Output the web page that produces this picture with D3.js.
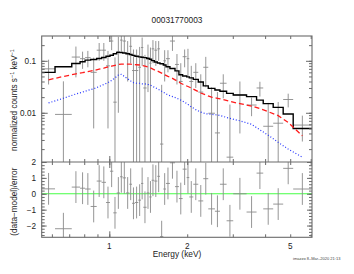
<!DOCTYPE html>
<html>
<head>
<meta charset="utf-8">
<script src="https://cdn.jsdelivr.net/npm/d3@7/dist/d3.min.js"></script>
<style>
body { margin: 0; background: #fff; }
text { font-family: "Liberation Sans", Arial, sans-serif; fill: #222; }
</style>
</head>
<body>
<div id="chart"></div>
<script>
// spectral bins (keV), one more edge than bins
const binEdges = [0.55, 0.617, 0.716, 0.771, 0.806, 0.847, 0.894, 0.934, 0.971, 1.006,
    1.036, 1.068, 1.100, 1.126, 1.160, 1.195, 1.224, 1.256, 1.294, 1.326,
    1.353, 1.394, 1.428, 1.457, 1.492, 1.533, 1.570, 1.617, 1.656, 1.715,
    1.794, 1.858, 1.920, 1.990, 2.037, 2.111, 2.207, 2.307, 2.412, 2.559,
    2.676, 2.839, 3.012, 3.391, 3.707, 3.933, 4.298, 4.697, 5.135, 6.043];

// total model (black histogram)
const modelTotal = [0.060, 0.077, 0.089, 0.096, 0.103, 0.106, 0.111, 0.116, 0.122, 0.128,
    0.137, 0.145, 0.144, 0.141, 0.137, 0.132, 0.127, 0.122, 0.119, 0.117,
    0.115, 0.111, 0.107, 0.101, 0.095, 0.091, 0.088, 0.083, 0.077, 0.071,
    0.064, 0.054, 0.051, 0.049, 0.047, 0.044, 0.039, 0.033, 0.0295, 0.0275,
    0.026, 0.0236, 0.022, 0.0205, 0.0175, 0.015, 0.0127, 0.0095, 0.005];

// model components
const compRed = [0.043, 0.050, 0.056, 0.059, 0.062, 0.065, 0.069, 0.072, 0.076, 0.079,
    0.082, 0.085, 0.086, 0.086, 0.086, 0.086, 0.085, 0.084, 0.083, 0.081,
    0.079, 0.076, 0.073, 0.069, 0.065, 0.062, 0.058, 0.054, 0.050, 0.046,
    0.041, 0.037, 0.034, 0.032, 0.030, 0.027, 0.024, 0.022, 0.020, 0.019,
    0.018, 0.0165, 0.015, 0.0135, 0.012, 0.0105, 0.0088, 0.0065, 0.0036];

const compBlue = [0.0155, 0.019, 0.023, 0.025, 0.027, 0.029, 0.032, 0.035, 0.038, 0.042,
    0.047, 0.053, 0.055, 0.050, 0.045, 0.041, 0.038, 0.037, 0.037, 0.036,
    0.036, 0.035, 0.034, 0.032, 0.030, 0.028, 0.026, 0.024, 0.022, 0.0205,
    0.019, 0.0175, 0.016, 0.0145, 0.013, 0.0115, 0.0103, 0.0096, 0.0093, 0.0091,
    0.0085, 0.0078, 0.007, 0.0060, 0.0047, 0.0037, 0.0027, 0.0020, 0.0014];

// data points and 1-sigma errors
const dataRate = [0.070, 0.0093, 0.118, 0.110, 0.115, 0.060, 0.160, 0.160, 0.080, 0.240,
    0.016, 0.150, 0.250, 0.240, 0.140, 0.190, 0.065, 0.065, 0.075, 0.180,
    0.030, 0.115, 0.090, 0.170, 0.160, 0.170, 0.0025, 0.100, 0.110, 0.240,
    0.085, 0.040, 0.120, 0.110, 0.040, 0.060, 0.025, 0.075, 0.0098, 0.0041,
    0.037, 0.0014, 0.022, 0.0141, 0.030, 0.0055, 0.0063, 0.018, 0.0058];

const dataErr = [0.035, 0.031, 0.070, 0.040, 0.040, 0.055, 0.060, 0.060, 0.075, 0.080,
    0.100, 0.140, 0.100, 0.100, 0.100, 0.100, 0.100, 0.100, 0.110, 0.100,
    0.100, 0.090, 0.090, 0.080, 0.080, 0.070, 0.032, 0.060, 0.050, 0.085,
    0.050, 0.050, 0.045, 0.060, 0.040, 0.030, 0.030, 0.044, 0.021, 0.021,
    0.018, 0.013, 0.018, 0.0055, 0.0095, 0.010, 0.0098, 0.0053, 0.003];

// (data-model)/error
const residuals = [0.31, -2.2, 0.42, 0.35, 0.3, -0.8, 0.8, 0.72, -0.55, 1.42,
    -1.2, 0.05, 1.07, 1.0, 0.05, 0.6, -0.6, -0.55, -0.4, 0.65,
    -0.85, 0.05, -0.2, 0.85, 0.8, 1.1, -2.7, 0.3, 0.65, 1.95,
    0.45, -0.3, 1.55, 1.02, -0.2, 0.6, -0.45, 0.95, -0.95, -1.1,
    0.6, -1.7, 0.0, -1.15, 1.3, -0.95, -0.65, 1.6, 0.3];

const xTickLabels = [1, 2, 5];
const yTopLabels = [0.01, 0.1];
const yBotLabels = [-2, -1, 0, 1, 2];

const W = 354, H = 274;
const margin = {left: 41.7, right: 42, top: 36};
const midY = 162, botY = 237.3;
const frameCol = "#6a6a6a", dataCol = "#8a8a8a";

const bins = dataRate.map((d, i) => ({
    lo: binEdges[i], hi: binEdges[i + 1], mid: Math.sqrt(binEdges[i] * binEdges[i + 1]),
    rate: d, err: dataErr[i], model: modelTotal[i], red: compRed[i], blue: compBlue[i],
    res: residuals[i]
}));

const svg = d3.select("#chart").append("svg")
    .attr("width", W).attr("height", H);

const x = d3.scaleLog().domain([0.548, 6.07]).range([margin.left, W - margin.right]);
const yTop = d3.scaleLog().domain([0.00113, 0.30]).range([midY, margin.top]);
const yBot = d3.scaleLinear().domain([-2.74, 2]).range([botY, midY]);

// clip paths
const defs = svg.append("defs");
defs.append("clipPath").attr("id", "clipTop").append("rect")
    .attr("x", x.range()[0]).attr("y", margin.top)
    .attr("width", x.range()[1] - x.range()[0]).attr("height", midY - margin.top);
defs.append("clipPath").attr("id", "clipBot").append("rect")
    .attr("x", x.range()[0]).attr("y", midY)
    .attr("width", x.range()[1] - x.range()[0]).attr("height", botY - midY);

// ---- top panel ----
const gTop = svg.append("g").attr("clip-path", "url(#clipTop)");

const lowVal = d => (d.rate - d.err > 0 ? d.rate - d.err : 1e-6);

gTop.selectAll(".ebar").data(bins).enter().append("line")
    .attr("x1", d => x(d.mid)).attr("x2", d => x(d.mid))
    .attr("y1", d => yTop(d.rate + d.err)).attr("y2", d => yTop(lowVal(d)))
    .attr("stroke", dataCol).attr("stroke-width", 0.9);

gTop.selectAll(".xbar").data(bins).enter().append("line")
    .attr("x1", d => x(d.lo)).attr("x2", d => x(d.hi))
    .attr("y1", d => yTop(d.rate)).attr("y2", d => yTop(d.rate))
    .attr("stroke", dataCol).attr("stroke-width", 0.9);

const stepPts = [];
bins.forEach(d => { stepPts.push([d.lo, d.model]); stepPts.push([d.hi, d.model]); });
stepPts[0][0] = x.domain()[0];
stepPts[stepPts.length - 1][0] = x.domain()[1];

gTop.append("path")
    .datum(stepPts)
    .attr("d", d3.line().x(d => x(d[0])).y(d => yTop(d[1])))
    .attr("fill", "none").attr("stroke", "#000").attr("stroke-width", 1.4);

gTop.append("path")
    .datum(bins)
    .attr("d", d3.line().x(d => x(d.mid)).y(d => yTop(d.red)))
    .attr("fill", "none").attr("stroke", "#ff1a1a").attr("stroke-width", 1.3)
    .attr("stroke-dasharray", "5,3");

gTop.append("path")
    .datum(bins)
    .attr("d", d3.line().x(d => x(d.mid)).y(d => yTop(d.blue)))
    .attr("fill", "none").attr("stroke", "#2233ff").attr("stroke-width", 1.2)
    .attr("stroke-dasharray", "1,2");

// ---- bottom panel ----
const gBot = svg.append("g").attr("clip-path", "url(#clipBot)");

gBot.append("line")
    .attr("x1", x.range()[0]).attr("x2", x.range()[1])
    .attr("y1", yBot(0)).attr("y2", yBot(0))
    .attr("stroke", "#44ff44").attr("stroke-width", 1.2);

gBot.selectAll(".rbar").data(bins).enter().append("line")
    .attr("x1", d => x(d.mid)).attr("x2", d => x(d.mid))
    .attr("y1", d => yBot(d.res + 1)).attr("y2", d => yBot(d.res - 1))
    .attr("stroke", dataCol).attr("stroke-width", 0.9);

gBot.selectAll(".rxbar").data(bins).enter().append("line")
    .attr("x1", d => x(d.lo)).attr("x2", d => x(d.hi))
    .attr("y1", d => yBot(d.res)).attr("y2", d => yBot(d.res))
    .attr("stroke", dataCol).attr("stroke-width", 0.9);

// ---- axes (inward ticks on every side) ----
const xMinor = [];
[0.1, 1].forEach(dec => d3.range(1, 10).forEach(k => {
    const v = k * dec;
    if (v >= x.domain()[0] && v <= x.domain()[1]) xMinor.push(v);
}));
const yMinor = [];
[0.001, 0.01, 0.1].forEach(dec => d3.range(1, 10).forEach(k => {
    const v = k * dec;
    if (v >= yTop.domain()[0] && v <= yTop.domain()[1]) yMinor.push(v);
}));
const rMinor = d3.range(-2.6, 2.01, 0.2).map(v => Math.round(v * 10) / 10);

function styleAxis(g) {
    g.select(".domain").remove();
    g.selectAll("line").attr("stroke", frameCol);
    g.selectAll("text").remove();
}

function xAxes(yPos, dir) {
    const ax = dir === "up" ? d3.axisBottom(x) : d3.axisTop(x);
    svg.append("g").attr("transform", `translate(0,${yPos})`)
        .call(ax.tickValues(xMinor).tickSize(-3)).call(styleAxis);
    svg.append("g").attr("transform", `translate(0,${yPos})`)
        .call((dir === "up" ? d3.axisBottom(x) : d3.axisTop(x)).tickValues([1]).tickSize(-6)).call(styleAxis);
}
xAxes(midY, "up");
xAxes(margin.top, "down");
xAxes(midY, "down");
xAxes(botY, "up");

function yAxes(scale, minor, major, majorLen) {
    [[d3.axisLeft, x.range()[0]], [d3.axisRight, x.range()[1]]].forEach(([f, xp]) => {
        svg.append("g").attr("transform", `translate(${xp},0)`)
            .call(f(scale).tickValues(minor).tickSize(-3)).call(styleAxis);
        svg.append("g").attr("transform", `translate(${xp},0)`)
            .call(f(scale).tickValues(major).tickSize(-majorLen)).call(styleAxis);
    });
}
yAxes(yTop, yMinor, yTopLabels, 6);
yAxes(yBot, rMinor, yBotLabels, 5);

// frames
svg.append("rect")
    .attr("x", x.range()[0]).attr("y", margin.top)
    .attr("width", x.range()[1] - x.range()[0]).attr("height", botY - margin.top)
    .attr("fill", "none").attr("stroke", frameCol).attr("stroke-width", 1.1);
svg.append("line")
    .attr("x1", x.range()[0]).attr("x2", x.range()[1])
    .attr("y1", midY).attr("y2", midY)
    .attr("stroke", frameCol).attr("stroke-width", 1.1);

// tick labels
svg.selectAll(".ytl").data(yTopLabels).enter().append("text")
    .attr("x", 36).attr("y", d => yTop(d) + 3)
    .attr("text-anchor", "end").style("font-size", "8.2px")
    .text(d => d);
svg.selectAll(".ybl").data(yBotLabels).enter().append("text")
    .attr("x", 36).attr("y", d => yBot(d) + 3)
    .attr("text-anchor", "end").style("font-size", "8.2px")
    .text(d => d < 0 ? "\u2212" + Math.abs(d) : d);
svg.selectAll(".xtl").data(xTickLabels).enter().append("text")
    .attr("x", d => x(d)).attr("y", 248.5)
    .attr("text-anchor", "middle").style("font-size", "8.2px")
    .text(d => d);

// titles
svg.append("text").attr("x", 177).attr("y", 22.5)
    .attr("text-anchor", "middle").style("font-size", "8.3px").text("00031770003");

svg.append("text").attr("x", 177).attr("y", 257)
    .attr("text-anchor", "middle").style("font-size", "8.3px").text("Energy (keV)");

const yl = svg.append("text")
    .attr("transform", `translate(17,${(margin.top + midY) / 2 + 1}) rotate(-90)`)
    .attr("text-anchor", "middle").style("font-size", "8.2px");
yl.append("tspan").text("normalized counts s");
yl.append("tspan").attr("dy", -3).style("font-size", "5.5px").text("\u22121");
yl.append("tspan").attr("dy", 3).text(" keV");
yl.append("tspan").attr("dy", -3).style("font-size", "5.5px").text("\u22121");

svg.append("text")
    .attr("transform", `translate(17,${(midY + botY) / 2 + 2}) rotate(-90)`)
    .attr("text-anchor", "middle").style("font-size", "8.2px")
    .text("(data\u2212model)/error");

svg.append("text").attr("x", 293).attr("y", 260)
    .style("font-size", "4px").style("fill", "#444")
    .text("imazzo  8\u2013Mar\u20132020 21:13");
</script>
</body>
</html>
